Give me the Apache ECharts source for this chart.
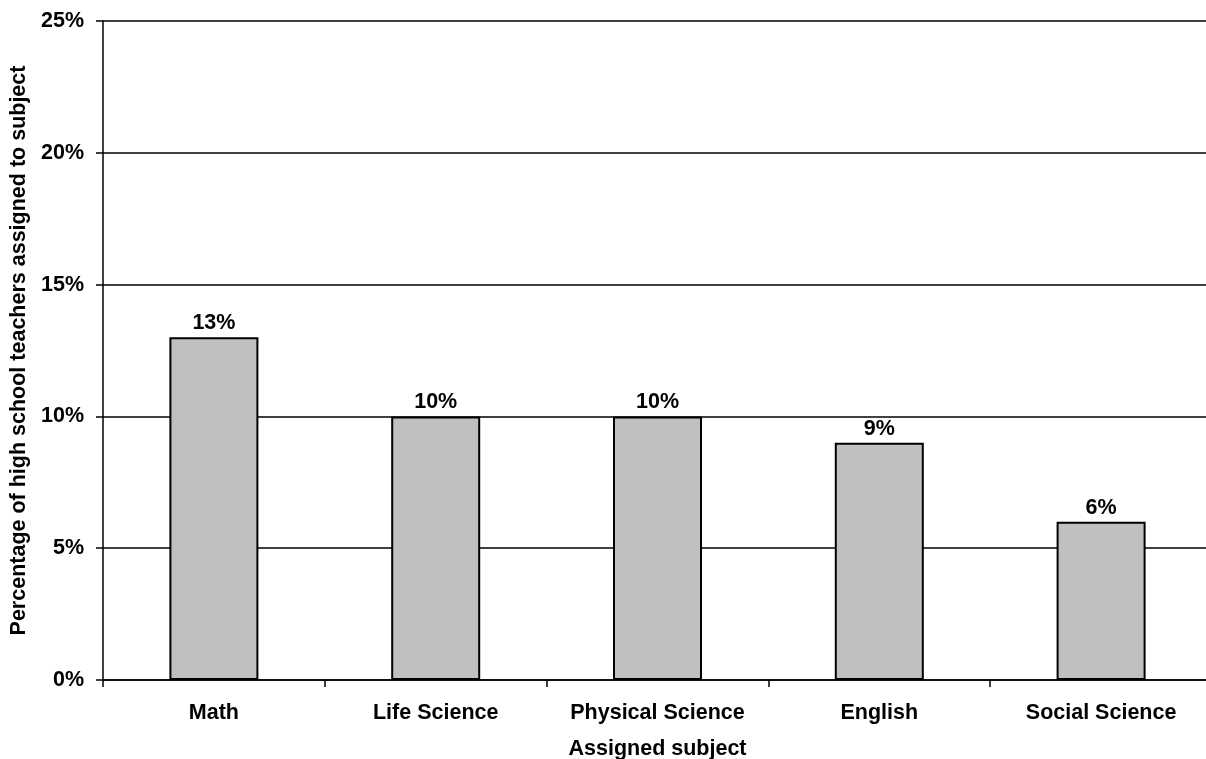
<!DOCTYPE html>
<html>
<head>
<meta charset="utf-8">
<script src="https://cdn.jsdelivr.net/npm/echarts@6/dist/echarts.min.js"></script>
<style>
html,body{margin:0;padding:0;background:#fff;}
#chart{width:1206px;height:759px;}
</style>
</head>
<body>
<div id="chart"></div>
<script>
const categories = ['Math', 'Life Science', 'Physical Science', 'English', 'Social Science'];
const values = [13, 10, 10, 9, 6];
const yTicks = [0, 5, 10, 15, 20, 25];

const FONT = 'Liberation Sans, Arial, sans-serif';
const chart = echarts.init(document.getElementById('chart'), null, {renderer: 'canvas'});
chart.setOption({
  animation: false,
  backgroundColor: '#ffffff',
  grid: {left: 103, right: -6, top: 21, bottom: 79, containLabel: false, outerBoundsMode: 'none'},
  xAxis: {
    type: 'category',
    data: categories,
    name: 'Assigned subject',
    nameLocation: 'middle',
    nameGap: 58,
    nameTextStyle: {fontFamily: FONT, fontWeight: 'bold', fontSize: 21.5, color: '#000'},
    axisLine: {show: true, lineStyle: {color: '#000', width: 1.5}},
    axisTick: {show: true, alignWithLabel: false, length: 7, lineStyle: {color: '#000', width: 1.5}},
    axisLabel: {fontFamily: FONT, fontWeight: 'bold', fontSize: 21.5, color: '#000', margin: 22, interval: 0},
    splitLine: {show: false}
  },
  yAxis: {
    type: 'value',
    min: yTicks[0],
    max: yTicks[yTicks.length - 1],
    interval: 5,
    name: 'Percentage of high school teachers assigned to subject',
    nameLocation: 'middle',
    nameGap: 66,
    nameTextStyle: {fontFamily: FONT, fontWeight: 'bold', fontSize: 21.5, color: '#000'},
    axisLine: {show: true, lineStyle: {color: '#000', width: 1.5}},
    axisTick: {show: true, length: 7, lineStyle: {color: '#000', width: 1.5}},
    axisLabel: {fontFamily: FONT, fontWeight: 'bold', fontSize: 21.5, color: '#000', margin: 19, formatter: '{value}%'},
    splitLine: {show: true, lineStyle: {color: '#000', width: 1.5}}
  },
  series: [{
    type: 'bar',
    data: values,
    barWidth: 89,
    itemStyle: {color: '#C0C0C0', borderColor: '#000', borderWidth: 2},
    label: {
      show: true,
      position: 'top',
      distance: 3,
      formatter: '{c}%',
      fontFamily: FONT, fontWeight: 'bold', fontSize: 21.5, color: '#000'
    }
  }]
});
</script>
</body>
</html>
